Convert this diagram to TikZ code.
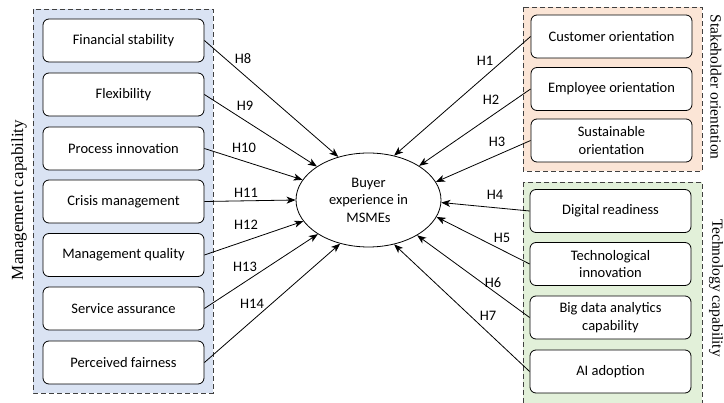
\documentclass[tikz,border=0pt]{standalone}
\usepackage{fontspec}
\setmainfont{Carlito}
\newfontfamily\tnr{Liberation Serif}
\usetikzlibrary{arrows.meta,shapes.geometric}
\definecolor{mblue}{HTML}{DAE3F3}
\definecolor{sorange}{HTML}{FBE5D6}
\definecolor{tgreen}{HTML}{E2F0D9}
\definecolor{dashgray}{HTML}{404040}
\tikzset{
  group/.style={draw=dashgray,dashed,dash pattern=on 5pt off 3pt,line width=0.9pt},
  item/.style={draw=black,fill=white,rounded corners=6pt,line width=0.8pt,minimum width=161pt,
    minimum height=43pt,inner sep=0pt,align=center,font=\fontsize{14.5}{17.5}\selectfont},
  hyp/.style={draw=black,line width=0.8pt,-{Stealth[length=9pt,width=7pt,inset=2.5pt]}},
  hlab/.style={font=\fontsize{14.5}{17}\selectfont,inner sep=0pt},
  side/.style={font=\tnr\fontsize{15.5}{18}\selectfont,inner sep=0pt}
}
\begin{document}
\begin{tikzpicture}[x=1pt,y=-1pt]
\useasboundingbox (0,0) rectangle (724,403);
\fill[white] (0,0) rectangle (724,403);
% containers
\filldraw[group,fill=mblue] (33,9) rectangle (213,393);
\filldraw[group,fill=sorange] (523,7) rectangle (702,171);
\filldraw[group,fill=tgreen] (523,182) rectangle (702,412);
% side labels
\node[side,rotate=90,font=\tnr\fontsize{17}{20}\selectfont] (lm) at (19,200) {Management capability};
\node[side,rotate=-90] (ls) at (716,87) {Stakeholder orientation};
\node[side,rotate=-90] (lt) at (716,288) {Technology capability};
% central
\node[ellipse,draw=black,line width=0.8pt,minimum width=145pt,minimum height=94pt,inner sep=0pt,
  align=center,font=\fontsize{14.5}{17.5}\selectfont] (e) at (368.5,200) {Buyer\\experience in\\MSMEs};
% left items
\node[item] (m1) at (123.5,40.5) {Financial stability};
\node[item] (m2) at (123.5,94.5) {Flexibility};
\node[item] (m3) at (123.5,148.5) {Process innovation};
\node[item] (m4) at (123.5,201.5) {Crisis management};
\node[item] (m5) at (123.5,255) {Management quality};
\node[item] (m6) at (123.5,308.5) {Service assurance};
\node[item] (m7) at (123.5,362.5) {Perceived fairness};
% right items
\node[item] (s1) at (611.5,36.5) {Customer orientation};
\node[item] (s2) at (611.5,89) {Employee orientation};
\node[item] (s3) at (611.5,140.5) {Sustainable\\orientation};
\node[item] (t1) at (610.5,211) {Digital readiness};
\node[item] (t2) at (610.5,264) {Technological\\innovation};
\node[item] (t3) at (610.5,317.5) {Big data analytics\\capability};
\node[item] (t4) at (610.5,371.5) {AI adoption};
% arrows
\draw[hyp] (m1.east) -- (e.125);
\draw[hyp] (m2.east) -- (e.147);
\draw[hyp] (m3.east) -- (e.163);
\draw[hyp] (m4.east) -- (e.180);
\draw[hyp] (m5.east) -- (e.198);
\draw[hyp] (m6.east) -- (e.214);
\draw[hyp] (m7.east) -- (e.237);
\draw[hyp] (s1.west) -- (e.60);
\draw[hyp] (s2.west) -- (e.34);
\draw[hyp] (s3.west) -- (e.15);
\draw[hyp] (t1.west) -- (e.-2);
\draw[hyp] (t2.west) -- (e.-14);
\draw[hyp] (t3.west) -- (e.-36);
\draw[hyp] (t4.west) -- (e.-60);
% labels
\node[hlab] (h8) at (243,59) {H8};
\node[hlab] (h9) at (245,106) {H9};
\node[hlab] (h10) at (244,148) {H10};
\node[hlab] (h11) at (246,193) {H11};
\node[hlab] (h12) at (246,225) {H12};
\node[hlab] (h13) at (245,267) {H13};
\node[hlab] (h14) at (252,304) {H14};
\node[hlab] (h1) at (485,61) {H1};
\node[hlab] (h2) at (491,100) {H2};
\node[hlab] (h3) at (497,142) {H3};
\node[hlab] (h4) at (495,195) {H4};
\node[hlab] (h5) at (502,238) {H5};
\node[hlab] (h6) at (493,283) {H6};
\node[hlab] (h7) at (488,316) {H7};
\end{tikzpicture}
\end{document}
